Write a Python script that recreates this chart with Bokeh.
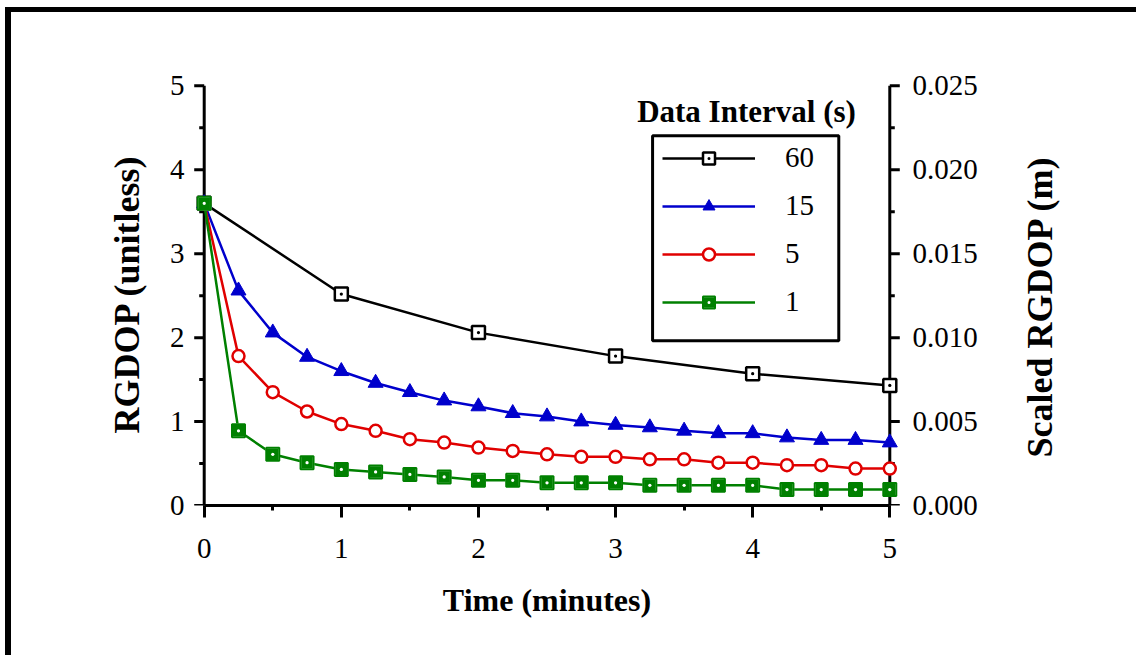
import math
from bokeh.plotting import figure
from bokeh.models import (Range1d, LinearAxis, SingleIntervalTicker, FixedTicker,
                          PrintfTickFormatter, Legend, LegendItem, Label, BoxAnnotation)
from bokeh.embed import file_html
from bokeh.resources import INLINE

# ---------------- data ----------------
t_60 = [0, 1, 2, 3, 4, 5]
rgdop_60 = [3.60, 2.52, 2.06, 1.78, 1.57, 1.43]

t_q = [0, 0.25, 0.5, 0.75, 1.0, 1.25, 1.5, 1.75, 2.0, 2.25, 2.5,
       2.75, 3.0, 3.25, 3.5, 3.75, 4.0, 4.25, 4.5, 4.75, 5.0]
rgdop_15 = [3.60, 2.56, 2.06, 1.77, 1.60, 1.46, 1.35, 1.25, 1.18, 1.10, 1.06,
            1.00, 0.96, 0.93, 0.89, 0.86, 0.86, 0.81, 0.78, 0.78, 0.75]
rgdop_5 = [3.60, 1.78, 1.35, 1.12, 0.97, 0.89, 0.79, 0.75, 0.69, 0.65, 0.61,
           0.58, 0.58, 0.55, 0.55, 0.51, 0.51, 0.48, 0.48, 0.44, 0.44]
rgdop_1 = [3.60, 0.89, 0.61, 0.51, 0.43, 0.40, 0.37, 0.34, 0.30, 0.30, 0.27,
           0.27, 0.27, 0.24, 0.24, 0.24, 0.24, 0.19, 0.19, 0.19, 0.19]

# axis extents / ticks
x_min, x_max = 0, 5
y_min, y_max = 0, 5
y2_max = 0.025
y_major_ticks = [0, 1, 2, 3, 4, 5]
y_minor_ticks = [0.5, 1.5, 2.5, 3.5, 4.5]

series_labels = ["60", "15", "5", "1"]
x_label = "Time (minutes)"
y_label = "RGDOP (unitless)"
y2_label = "Scaled RGDOP (m)"
legend_title = "Data Interval (s)"
top_title = "(PCS: 12m, 330100 to 330400 s, 8 satellites)"

FONT = "Liberation Serif"
BLACK = "#000000"
BLUE = "#0000cc"
RED = "#e00000"
GREEN = "#008000"

XPAD = 0.1        # room so that end markers are not clipped
YTOP = 0.04
y_hi = y_max + YTOP
y2_scale = y2_max / y_max
y2_title_at = 0.00286   # where the right-hand title starts (it reads upward)

p = figure(width=1136, height=655, output_backend="svg", toolbar_location=None,
           x_range=Range1d(x_min - XPAD, x_max + XPAD), y_range=Range1d(y_min, y_hi),
           min_border_left=190, min_border_right=233,
           min_border_top=82, min_border_bottom=150,
           x_axis_type=None, y_axis_type=None)
p.outline_line_color = None
p.background_fill_color = "white"
p.border_fill_alpha = 0
p.xgrid.visible = False
p.ygrid.visible = False
p.extra_y_ranges = {"r": Range1d(0, y_hi * y2_scale)}
# outer page frame (top and left edges of the surrounding box)
p.styles = {
    "background": "linear-gradient(#000,#000) 5px 7px / 6px 660px no-repeat, "
                  "linear-gradient(#000,#000) 5px 7px / 1140px 5px no-repeat, white"
}


def style_text(ax, label_size="32px"):
    ax.major_label_text_font = FONT
    ax.major_label_text_font_size = "29px"
    ax.major_label_text_color = BLACK
    ax.axis_label_text_font = FONT
    ax.axis_label_text_font_size = label_size
    ax.axis_label_text_font_style = "bold"
    ax.axis_label_text_color = BLACK


def label_only(ax):
    ax.axis_line_color = None
    ax.major_tick_line_color = None
    ax.minor_tick_line_color = None
    ax.major_tick_out = 0
    ax.minor_tick_out = 0
    ax.major_tick_in = 0
    ax.minor_tick_in = 0


xax = LinearAxis(ticker=SingleIntervalTicker(interval=1, num_minor_ticks=2),
                 axis_label=x_label, bounds=(x_min, x_max))
style_text(xax)
xax.axis_line_width = 3
xax.major_tick_line_width = 3
xax.minor_tick_line_width = 3
xax.major_tick_out = 12
xax.major_tick_in = 0
xax.minor_tick_out = 5
xax.minor_tick_in = 0
xax.major_label_standoff = 21
xax.axis_label_standoff = 21
p.add_layout(xax, "below")

# left: tick labels, then the axis title on its own (label-only) axis
yax = LinearAxis(ticker=SingleIntervalTicker(interval=1, num_minor_ticks=2))
style_text(yax)
label_only(yax)
yax.major_label_standoff = 6
p.add_layout(yax, "left")

yax_t = LinearAxis(ticker=FixedTicker(ticks=[]), axis_label=y_label)
style_text(yax_t, "36px")
label_only(yax_t)
yax_t.axis_label_standoff = 20
p.add_layout(yax_t, "left")

# right: scaled tick labels
rax = LinearAxis(y_range_name="r",
                 ticker=SingleIntervalTicker(interval=0.005, num_minor_ticks=2),
                 formatter=PrintfTickFormatter(format="%.3f"))
style_text(rax)
label_only(rax)
rax.major_label_standoff = 9
p.add_layout(rax, "right")

# right-hand title, rotated to read bottom-to-top
rax_t = LinearAxis(y_range_name="r",
                   ticker=FixedTicker(ticks=[y2_title_at], minor_ticks=[]),
                   major_label_overrides={y2_title_at: y2_label})
style_text(rax_t)
label_only(rax_t)
rax_t.major_label_text_font_size = "36px"
rax_t.major_label_text_font_style = "bold"
rax_t.major_label_orientation = math.pi / 2
rax_t.major_label_standoff = 60
p.add_layout(rax_t, "right")

# left / right spines and their ticks (at x = 0 and x = 5)
p.segment(x0=[x_min, x_max], y0=[y_min, y_min], x1=[x_min, x_max], y1=[y_max, y_max],
          line_color=BLACK, line_width=3)
p.ray(x=[x_min] * len(y_major_ticks), y=y_major_ticks, length=10, length_units="screen",
      angle=math.pi, line_color=BLACK, line_width=3)
p.ray(x=[x_min] * len(y_minor_ticks), y=y_minor_ticks, length=5, length_units="screen",
      angle=math.pi, line_color=BLACK, line_width=3)
p.ray(x=[x_max] * len(y_major_ticks), y=y_major_ticks, length=10, length_units="screen",
      angle=0, line_color=BLACK, line_width=3)
p.ray(x=[x_max] * len(y_minor_ticks), y=y_minor_ticks, length=5, length_units="screen",
      angle=0, line_color=BLACK, line_width=3)

LW = 2.5
l60 = p.line(t_60, rgdop_60, line_color=BLACK, line_width=LW)
l15 = p.line(t_q, rgdop_15, line_color=BLUE, line_width=LW)
l5 = p.line(t_q, rgdop_5, line_color=RED, line_width=LW)
l1 = p.line(t_q, rgdop_1, line_color=GREEN, line_width=LW)

m60 = p.scatter(t_60, rgdop_60, marker="square_dot", size=13, fill_color="white",
                line_color=BLACK, line_width=2.5)
m15 = p.scatter(t_q, rgdop_15, marker="triangle", size=15, fill_color=BLUE,
                line_color=BLUE, line_width=1)
m5 = p.scatter(t_q, rgdop_5, marker="circle", size=12, fill_color="white",
               line_color=RED, line_width=2.5)
m1 = p.scatter(t_q, rgdop_1, marker="square_dot", size=13, fill_color=GREEN,
               line_color="white", line_width=1.5)
m1o = p.scatter(t_q, rgdop_1, marker="square", size=13, fill_color=None,
                line_color=GREEN, line_width=2)

legend = Legend(items=[
    LegendItem(label=series_labels[0], renderers=[l60, m60]),
    LegendItem(label=series_labels[1], renderers=[l15, m15]),
    LegendItem(label=series_labels[2], renderers=[l5, m5]),
    LegendItem(label=series_labels[3], renderers=[l1, m1, m1o]),
], location=(472, 187))
legend.margin = 0
legend.padding = 0
legend.spacing = 15
legend.glyph_width = 93
legend.glyph_height = 30
legend.label_height = 30
legend.label_standoff = 30
legend.label_text_font = FONT
legend.label_text_font_size = "29px"
legend.label_text_color = BLACK
legend.border_line_color = None
legend.background_fill_alpha = 0
p.add_layout(legend)

# legend frame and title
p.add_layout(BoxAnnotation(left=3.27, right=4.628, top=4.405, bottom=1.964,
                           fill_alpha=0, line_color=BLACK, line_alpha=1, line_width=3))
p.add_layout(Label(x=3.955, y=4.69, text=legend_title, text_align="center",
                   text_baseline="middle", text_font=FONT, text_font_size="31px",
                   text_font_style="bold", text_color=BLACK))

# figure caption cropped at the very top edge of the picture
p.add_layout(Label(x=583, y=0, x_units="canvas", y_units="canvas", text=top_title,
                   text_align="center", text_baseline="alphabetic",
                   text_font=FONT, text_font_size="28px", text_color=BLACK))

open("out.html", "w").write(file_html(p, INLINE))
